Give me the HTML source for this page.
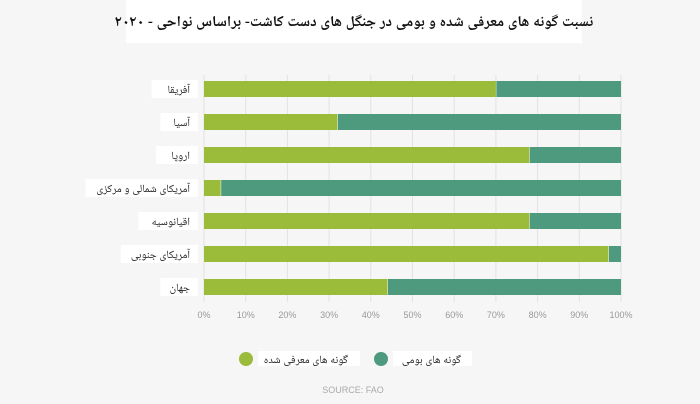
<!DOCTYPE html>
<html><head><meta charset="utf-8">
<style>
body{margin:0;background:#f5f5f5;}
svg{display:block;}
.t{font-family:"Liberation Serif","Noto Naskh Arabic","DejaVu Sans",serif;}
</style></head><body>
<svg id="c" width="700" height="404" xmlns="http://www.w3.org/2000/svg">
<rect x="0" y="0" width="700" height="404" fill="#f6f6f6"/>
<rect x="126" y="0" width="456" height="43" fill="#ffffff"/>
<text x="354" y="26" text-anchor="middle" direction="rtl" font-size="15" fill="#111" class="t" font-weight="bold">نسبت گونه های معرفی شده و بومی در جنگل های دست کاشت- براساس نواحی - ۲۰۲۰</text>
<g id="grid"></g>
<g id="bars"></g>
<g id="labels"></g>
<g id="ticks"></g>
<circle cx="246" cy="359" r="7" fill="#9bbb3a"/>
<rect x="258" y="351" width="102" height="15" fill="#fff"/>
<text x="348" y="363" text-anchor="end" font-size="11" class="t" fill="#222">گونه های معرفی شده</text>
<circle cx="381" cy="359" r="7" fill="#4e9a7e"/>
<rect x="393" y="351" width="79" height="15" fill="#fff"/>
<text x="461" y="363" text-anchor="end" font-size="11" class="t" fill="#222">گونه های بومی</text>
<text x="353" y="393" text-anchor="middle" font-size="9" font-family="Liberation Sans,sans-serif" fill="#aaa">SOURCE: FAO</text>
</svg>
<script>
const categories=["آفریقا","آسیا","اروپا","آمریکای شمالی و مرکزی","اقیانوسیه","آمریکای جنوبی","جهان"];
const introduced=[70,32,78,4,78,97,44];
const ticks=[0,10,20,30,40,50,60,70,80,90,100];
const NS="http://www.w3.org/2000/svg";
const x0=204,x1=621,yTop=75,yBot=302,rowTop=81,rowStep=33,barH=16;
const xs=v=>x0+(x1-x0)*v/100;
const ys=i=>rowTop+i*rowStep;
function mk(tag,attrs,parent){const e=document.createElementNS(NS,tag);for(const k in attrs)e.setAttribute(k,attrs[k]);document.getElementById(parent).appendChild(e);return e;}
ticks.forEach(t=>{
  const l=mk("line",{x1:xs(t),x2:xs(t),y1:yTop,y2:yBot,stroke:"#e2e2e2","stroke-width":1},"grid");
  
  
  const tx=mk("text",{x:xs(t),y:318,"text-anchor":"middle","font-size":9,"font-family":"Liberation Sans,sans-serif",fill:"#999"},"ticks");
  tx.textContent=t+"%";
  
  
});
categories.forEach((c,i)=>{
  const y=ys(i),v=introduced[i];
  const a=mk("rect",{x:xs(0),y:y,width:xs(v)-xs(0),height:barH,fill:"#9bbb3a"},"bars");
  
  
  const b=mk("rect",{x:xs(v)+0.5,y:y,width:xs(100)-xs(v)-0.5,height:barH,fill:"#4e9a7e"},"bars");
  
  
  const w=c.length*4.4+20;
  const bx=mk("rect",{x:198-w,y:y-1,width:w,height:barH+2,fill:"#fff"},"labels");
  
  
  const t=mk("text",{x:190,y:y+12,"text-anchor":"end","font-size":11,fill:"#222",class:"t"},"labels");
  t.textContent=c;
  
  
});
</script>
</body></html>
